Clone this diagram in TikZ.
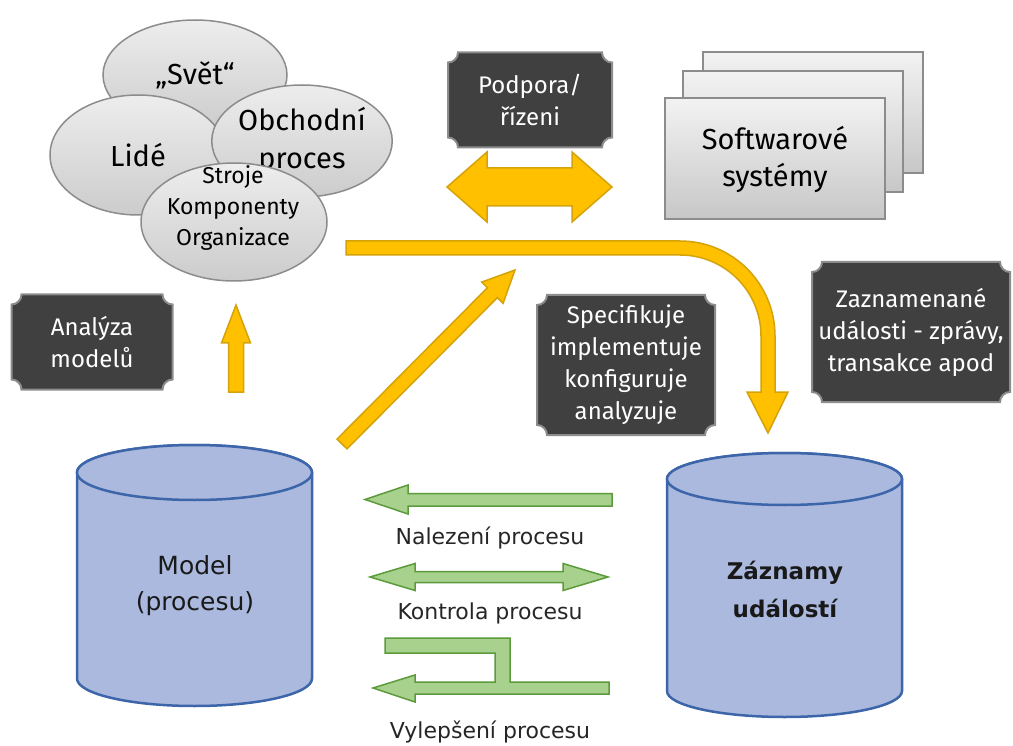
\documentclass[tikz,border=0pt]{standalone}
\usepackage{fontspec}
\setmainfont{Fira Sans}
\newfontfamily\dejavu{DejaVu Sans}
\usetikzlibrary{shapes.geometric}

\definecolor{gold}{HTML}{FFC000}
\definecolor{golddark}{HTML}{D4A20A}
\definecolor{leaf}{HTML}{A9D18E}
\definecolor{leafdark}{HTML}{5B9B3B}
\definecolor{slate}{HTML}{404040}
\definecolor{barrel}{HTML}{AAB9DD}
\definecolor{barreldark}{HTML}{3D65AA}

\newcommand\plaque[5]{%
  \begin{scope}[shift={(#2)}]
    \filldraw[plaquebox] ({-#3+10},#4) -- ({#3-10},#4)
      .. controls ({#3-10},{#4-5.5}) and ({#3-5.5},{#4-10}) .. (#3,{#4-10})
      -- (#3,{-#4+10})
      .. controls ({#3-5.5},{-#4+10}) and ({#3-10},{-#4+5.5}) .. ({#3-10},-#4)
      -- ({-#3+10},-#4)
      .. controls ({-#3+10},{-#4+5.5}) and ({-#3+5.5},{-#4+10}) .. (-#3,{-#4+10})
      -- (-#3,{#4-10})
      .. controls ({-#3+5.5},{#4-10}) and ({-#3+10},{#4-5.5}) .. ({-#3+10},#4) -- cycle;
  \end{scope}
  \node[plaquetext] (#1) at (#2) {#5};}

\begin{document}
\begin{tikzpicture}[x=1pt,y=1pt,
  blob/.style={ellipse,draw=black!45,line width=1.5,top color=black!7,bottom color=black!20,
    inner sep=0pt,align=center,font=\fontsize{29}{38}\selectfont},
  sheet/.style={rectangle,draw=black!45,line width=2,top color=black!5,bottom color=black!22,
    minimum width=220,minimum height=121,inner sep=0pt,align=center,font=\fontsize{29}{37}\selectfont},
  plaquebox/.style={fill=slate,draw=black!45,line width=2},
  plaquetext/.style={text=white,align=center,font=\fontsize{24}{32}\selectfont},
  goldarrow/.style={fill=gold,draw=golddark,line width=1.5,line join=miter},
  leafarrow/.style={fill=leaf,draw=leafdark,line width=1.5},
  barrelbody/.style={fill=barrel,draw=barreldark,line width=2.5},
  barreltext/.style={align=center,text=black!90,font=\dejavu\fontsize{25}{36}\selectfont},
  leaflabel/.style={text=black!85,font=\dejavu\fontsize{22}{26}\selectfont}]
  \useasboundingbox (0,0) rectangle (1013,-746);

  \node[blob,minimum width=184,minimum height=110] (svet) at (195,-75) {„Svět“};
  \node[blob,minimum width=176,minimum height=120] (lide) at (138,-155) {Lidé};
  \node[blob,minimum width=180,minimum height=112] (obchod) at (302,-141) {Obchodní\\proces};
  \node[blob,minimum width=186,minimum height=118] (stroje) at (234,-222) {};
  \node[align=center,font=\fontsize{23}{31}\selectfont] (strojetext) at (233,-208)
    {Stroje\\Komponenty\\Organizace};

  \node[sheet] (swback) at (813,-113) {};
  \node[sheet] (swmid) at (793,-132) {};
  \node[sheet] (swfront) at (775,-159) {Softwarové\\systémy};

  \plaque{podpora}{530,-100}{82}{47.5}{Podpora/\\řízeni}
  \plaque{analyza}{92,-342}{80.5}{47.5}{Analýza\\modelů}
  \plaque{specif}{626,-365}{89}{70}{Specifikuje\\implementuje\\konfiguruje\\analyzuje}
  \plaque{zazn}{911,-332}{99}{70}{Zaznamenané\\události - zprávy,\\transakce apod}

  \filldraw[goldarrow] (447,-187) -- (487,-152) -- (487,-168) -- (572,-168) -- (572,-152)
    -- (612,-187) -- (572,-222) -- (572,-206) -- (487,-206) -- (487,-222) -- cycle;
  \filldraw[goldarrow] (228.5,-392) -- (228.5,-343) -- (221.5,-343) -- (236,-305)
    -- (250.5,-343) -- (243.5,-343) -- (243.5,-392) -- cycle;
  \filldraw[goldarrow] (337,-439.1) -- (487.4,-287.8) -- (481.7,-282.1) -- (515,-270)
    -- (503.1,-303.3) -- (497.4,-297.6) -- (347,-448.9) -- cycle;
  \filldraw[goldarrow] (346,-241) -- (680,-241) .. controls (732.5,-241) and (775,-283.5) .. (775,-336)
    -- (775,-392) -- (788,-392) -- (768,-433) -- (747,-392) -- (761,-392) -- (761,-336)
    .. controls (761,-291.3) and (724.7,-255) .. (680,-255) -- (346,-255) -- cycle;

  \filldraw[barrelbody] (77,-472.5) -- (77,-678.5) arc[start angle=180,end angle=360,x radius=117.5,y radius=27.5]
    -- (312,-472.5) arc[start angle=0,end angle=180,x radius=117.5,y radius=27.5] -- cycle;
  \draw[barrelbody] (194.5,-472.5) ellipse[x radius=117.5,y radius=27.5];
  \node[barreltext] (model) at (195,-586) {Model\\(procesu)};

  \filldraw[barrelbody] (667,-479) -- (667,-691) arc[start angle=180,end angle=360,x radius=117.5,y radius=26]
    -- (902,-479) arc[start angle=0,end angle=180,x radius=117.5,y radius=26] -- cycle;
  \draw[barrelbody] (784.5,-479) ellipse[x radius=117.5,y radius=26];
  \node[barreltext,font=\dejavu\bfseries\fontsize{23}{38}\selectfont] (zaznamy) at (785,-589) {Záznamy\\událostí};

  \filldraw[leafarrow] (612,-493.5) -- (408,-493.5) -- (408,-485) -- (365,-499.5) -- (408,-514)
    -- (408,-506) -- (612,-506) -- cycle;
  \node[leaflabel] (nalezeni) at (490,-538) {Nalezení procesu};
  \filldraw[leafarrow] (370,-577) -- (415,-563.5) -- (415,-571.5) -- (563,-571.5) -- (563,-563.5)
    -- (608,-577) -- (563,-590.5) -- (563,-582.5) -- (415,-582.5) -- (415,-590.5) -- cycle;
  \node[leaflabel] (kontrola) at (490,-613) {Kontrola procesu};
  \filldraw[leafarrow] (609,-682) -- (510,-682) -- (510,-638) -- (385,-638) -- (385,-653) -- (495,-653)
    -- (495,-682) -- (415,-682) -- (415,-675) -- (373,-688) -- (415,-702) -- (415,-694) -- (609,-694) -- cycle;
  \node[leaflabel] (vylepseni) at (490,-732) {Vylepšení procesu};
\end{tikzpicture}
\end{document}
